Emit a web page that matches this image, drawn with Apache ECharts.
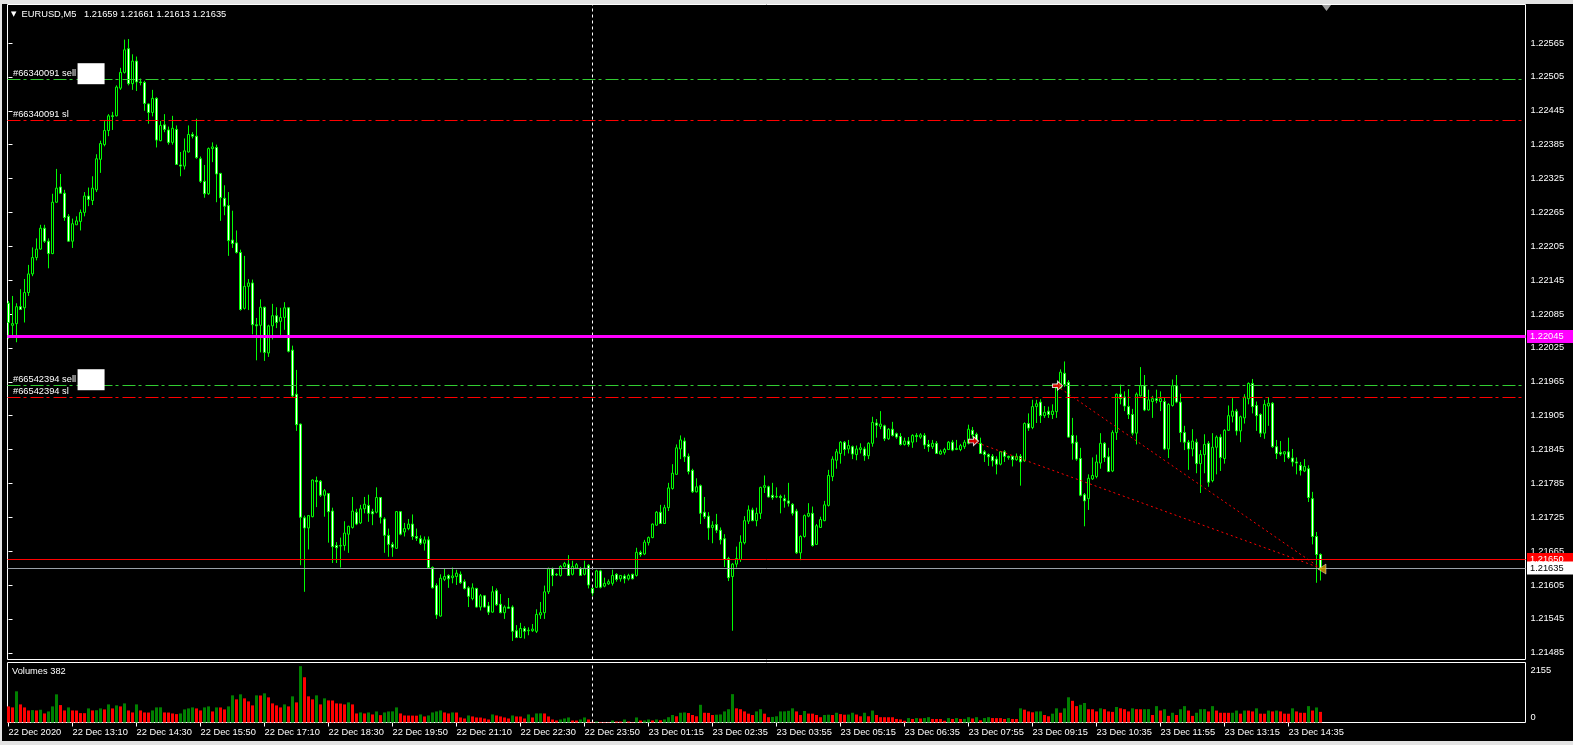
<!DOCTYPE html>
<html><head><meta charset="utf-8">
<script src="https://cdn.jsdelivr.net/npm/echarts@6/dist/echarts.min.js"></script>
<style>html,body{margin:0;padding:0;background:#000;}#c{width:1573px;height:745px;}</style>
</head><body><div id="c"></div>
<script>
const openP=[1.22104,1.22065,1.22068,1.22098,1.22096,1.22123,1.22156,1.22185,1.22200,1.22237,
1.22214,1.22192,1.22283,1.22310,1.22299,1.22258,1.22214,1.22243,1.22249,1.22265,
1.22294,1.22286,1.22305,1.22359,1.22385,1.22410,1.22436,1.22436,1.22485,1.22513,
1.22555,1.22493,1.22533,1.22496,1.22495,1.22457,1.22442,1.22467,1.22392,1.22420,
1.22411,1.22389,1.22412,1.22349,1.22347,1.22372,1.22403,1.22400,1.22360,1.22320,
1.22298,1.22378,1.22380,1.22334,1.22290,1.22277,1.22216,1.22211,1.22194,1.22095,
1.22134,1.22140,1.22066,1.22065,1.22097,1.22016,1.22064,1.22082,1.22072,1.22079,
1.22096,1.22021,1.21943,1.21890,1.21724,1.21706,1.21726,1.21790,1.21789,1.21764,
1.21767,1.21736,1.21675,1.21674,1.21675,1.21695,1.21707,1.21734,1.21715,1.21740,
1.21746,1.21735,1.21734,1.21760,1.21722,1.21693,1.21677,1.21670,1.21735,1.21699,
1.21705,1.21713,1.21691,1.21687,1.21679,1.21685,1.21636,1.21604,1.21550,1.21615,
1.21622,1.21618,1.21620,1.21624,1.21611,1.21600,1.21581,1.21599,1.21566,1.21586,
1.21568,1.21557,1.21595,1.21571,1.21556,1.21566,1.21566,1.21524,1.21512,1.21528,
1.21524,1.21524,1.21523,1.21552,1.21556,1.21593,1.21634,1.21624,1.21622,1.21638,
1.21642,1.21624,1.21635,1.21634,1.21624,1.21640,1.21599,1.21601,1.21630,1.21603,
1.21607,1.21608,1.21624,1.21616,1.21621,1.21616,1.21624,1.21622,1.21663,1.21660,
1.21680,1.21689,1.21711,1.21734,1.21714,1.21742,1.21776,1.21801,1.21846,1.21860,
1.21833,1.21808,1.21770,1.21781,1.21734,1.21727,1.21707,1.21712,1.21702,1.21687,
1.21652,1.21620,1.21642,1.21650,1.21680,1.21718,1.21738,1.21719,1.21732,1.21778,
1.21779,1.21764,1.21761,1.21762,1.21758,1.21754,1.21748,1.21736,1.21662,1.21691,
1.21727,1.21732,1.21677,1.21707,1.21719,1.21746,1.21797,1.21826,1.21838,1.21858,
1.21846,1.21850,1.21836,1.21845,1.21846,1.21834,1.21856,1.21892,1.21886,1.21887,
1.21864,1.21881,1.21873,1.21868,1.21854,1.21860,1.21858,1.21870,1.21867,1.21870,
1.21854,1.21850,1.21856,1.21837,1.21840,1.21845,1.21858,1.21845,1.21845,1.21850,
1.21856,1.21879,1.21872,1.21856,1.21841,1.21836,1.21833,1.21828,1.21819,1.21841,
1.21833,1.21833,1.21827,1.21833,1.21825,1.21891,1.21884,1.21921,1.21929,1.21905,
1.21913,1.21907,1.21912,1.21954,1.21980,1.21964,1.21870,1.21858,1.21829,1.21765,
1.21758,1.21793,1.21797,1.21821,1.21856,1.21832,1.21807,1.21875,1.21943,1.21938,
1.21921,1.21907,1.21874,1.21940,1.21958,1.21915,1.21930,1.21935,1.21930,1.21930,
1.21846,1.21923,1.21958,1.21929,1.21875,1.21858,1.21846,1.21858,1.21820,1.21836,
1.21856,1.21790,1.21849,1.21867,1.21829,1.21879,1.21904,1.21913,1.21878,1.21901,
1.21935,1.21962,1.21923,1.21907,1.21874,1.21922,1.21927,1.21850,1.21840,1.21837,
1.21841,1.21830,1.21823,1.21817,1.21807,1.21811,1.21758,1.21691,1.21659];
const highP=[1.22108,1.22117,1.22104,1.22129,1.22147,1.22172,1.22203,1.22219,1.22243,1.22243,
1.22219,1.22298,1.22342,1.22333,1.22305,1.22262,1.22254,1.22258,1.22270,1.22301,
1.22309,1.22329,1.22368,1.22392,1.22427,1.22439,1.22443,1.22490,1.22521,1.22571,
1.22572,1.22545,1.22541,1.22502,1.22498,1.22458,1.22482,1.22469,1.22427,1.22439,
1.22417,1.22436,1.22419,1.22372,1.22396,1.22419,1.22407,1.22431,1.22364,1.22349,
1.22380,1.22389,1.22385,1.22335,1.22313,1.22301,1.22268,1.22233,1.22199,1.22188,
1.22147,1.22146,1.22078,1.22111,1.22098,1.22066,1.22103,1.22097,1.22096,1.22106,
1.22097,1.22029,1.21986,1.21891,1.21728,1.21729,1.21792,1.21797,1.21791,1.21775,
1.21768,1.21742,1.21681,1.21689,1.21718,1.21710,1.21761,1.21740,1.21747,1.21761,
1.21765,1.21740,1.21778,1.21761,1.21725,1.21705,1.21681,1.21736,1.21736,1.21715,
1.21722,1.21730,1.21705,1.21693,1.21691,1.21691,1.21638,1.21608,1.21624,1.21634,
1.21624,1.21636,1.21632,1.21629,1.21615,1.21603,1.21608,1.21600,1.21589,1.21587,
1.21575,1.21603,1.21599,1.21589,1.21569,1.21582,1.21569,1.21534,1.21538,1.21532,
1.21530,1.21536,1.21562,1.21575,1.21604,1.21636,1.21636,1.21626,1.21640,1.21646,
1.21658,1.21648,1.21644,1.21637,1.21648,1.21642,1.21603,1.21632,1.21632,1.21618,
1.21615,1.21632,1.21626,1.21622,1.21624,1.21625,1.21625,1.21671,1.21666,1.21685,
1.21691,1.21714,1.21736,1.21747,1.21747,1.21786,1.21819,1.21854,1.21870,1.21866,
1.21838,1.21811,1.21794,1.21783,1.21761,1.21734,1.21718,1.21731,1.21707,1.21695,
1.21655,1.21644,1.21673,1.21693,1.21727,1.21746,1.21742,1.21742,1.21779,1.21799,
1.21781,1.21786,1.21778,1.21765,1.21765,1.21786,1.21750,1.21740,1.21693,1.21730,
1.21750,1.21744,1.21713,1.21726,1.21754,1.21809,1.21833,1.21846,1.21860,1.21860,
1.21862,1.21852,1.21852,1.21856,1.21850,1.21858,1.21903,1.21899,1.21913,1.21889,
1.21883,1.21894,1.21875,1.21874,1.21866,1.21867,1.21872,1.21874,1.21874,1.21874,
1.21862,1.21862,1.21860,1.21845,1.21848,1.21860,1.21862,1.21862,1.21855,1.21862,
1.21889,1.21885,1.21875,1.21866,1.21844,1.21838,1.21837,1.21833,1.21842,1.21844,
1.21834,1.21834,1.21838,1.21837,1.21893,1.21909,1.21933,1.21933,1.21934,1.21922,
1.21921,1.21925,1.21962,1.21987,1.22001,1.21968,1.21901,1.21870,1.21848,1.21768,
1.21801,1.21831,1.21836,1.21874,1.21858,1.21848,1.21879,1.21944,1.21960,1.21948,
1.21952,1.21917,1.21946,1.21991,1.21977,1.21951,1.21940,1.21951,1.21948,1.21938,
1.21927,1.21969,1.21977,1.21944,1.21887,1.21862,1.21881,1.21864,1.21844,1.21872,
1.21860,1.21874,1.21870,1.21872,1.21881,1.21923,1.21936,1.21917,1.21905,1.21943,
1.21964,1.21970,1.21930,1.21909,1.21933,1.21938,1.21929,1.21862,1.21860,1.21842,
1.21866,1.21846,1.21831,1.21823,1.21828,1.21817,1.21770,1.21699,1.21661];
const lowP=[1.22041,1.22046,1.22035,1.22092,1.22070,1.22117,1.22152,1.22180,1.22199,1.22211,
1.22166,1.22191,1.22282,1.22298,1.22250,1.22213,1.22202,1.22243,1.22233,1.22258,
1.22276,1.22278,1.22301,1.22335,1.22382,1.22400,1.22411,1.22435,1.22482,1.22511,
1.22490,1.22482,1.22480,1.22490,1.22445,1.22422,1.22435,1.22380,1.22391,1.22407,
1.22385,1.22385,1.22349,1.22329,1.22341,1.22371,1.22396,1.22360,1.22317,1.22291,
1.22296,1.22354,1.22283,1.22250,1.22260,1.22188,1.22202,1.22192,1.22091,1.22093,
1.22092,1.22049,1.22003,1.22017,1.22002,1.22009,1.22040,1.22060,1.22048,1.22057,
1.22017,1.21938,1.21878,1.21640,1.21593,1.21668,1.21725,1.21743,1.21761,1.21726,
1.21680,1.21644,1.21644,1.21636,1.21666,1.21662,1.21705,1.21711,1.21713,1.21732,
1.21717,1.21711,1.21732,1.21714,1.21662,1.21655,1.21655,1.21669,1.21693,1.21691,
1.21702,1.21685,1.21683,1.21676,1.21666,1.21634,1.21599,1.21545,1.21549,1.21612,
1.21600,1.21608,1.21605,1.21607,1.21597,1.21566,1.21578,1.21565,1.21560,1.21565,
1.21552,1.21556,1.21568,1.21555,1.21545,1.21563,1.21506,1.21511,1.21511,1.21510,
1.21516,1.21522,1.21520,1.21545,1.21545,1.21589,1.21603,1.21621,1.21620,1.21636,
1.21621,1.21622,1.21633,1.21621,1.21622,1.21599,1.21586,1.21600,1.21599,1.21601,
1.21605,1.21604,1.21611,1.21611,1.21608,1.21613,1.21615,1.21620,1.21655,1.21658,
1.21675,1.21688,1.21710,1.21713,1.21713,1.21736,1.21774,1.21801,1.21828,1.21823,
1.21801,1.21768,1.21769,1.21713,1.21722,1.21685,1.21679,1.21697,1.21677,1.21637,
1.21612,1.21524,1.21636,1.21646,1.21677,1.21713,1.21718,1.21709,1.21722,1.21768,
1.21760,1.21756,1.21759,1.21732,1.21742,1.21744,1.21728,1.21660,1.21649,1.21689,
1.21725,1.21673,1.21676,1.21706,1.21718,1.21744,1.21789,1.21811,1.21820,1.21834,
1.21838,1.21828,1.21826,1.21838,1.21825,1.21828,1.21850,1.21866,1.21881,1.21860,
1.21862,1.21868,1.21864,1.21852,1.21852,1.21850,1.21848,1.21858,1.21864,1.21846,
1.21841,1.21846,1.21837,1.21836,1.21836,1.21844,1.21842,1.21844,1.21842,1.21846,
1.21854,1.21866,1.21858,1.21837,1.21823,1.21816,1.21815,1.21801,1.21817,1.21823,
1.21827,1.21815,1.21825,1.21781,1.21823,1.21878,1.21881,1.21892,1.21892,1.21901,
1.21901,1.21899,1.21901,1.21952,1.21956,1.21866,1.21827,1.21825,1.21762,1.21709,
1.21738,1.21791,1.21794,1.21811,1.21823,1.21805,1.21805,1.21862,1.21925,1.21913,
1.21899,1.21870,1.21854,1.21939,1.21913,1.21914,1.21901,1.21927,1.21913,1.21844,
1.21830,1.21921,1.21927,1.21858,1.21844,1.21809,1.21833,1.21803,1.21768,1.21803,
1.21779,1.21787,1.21801,1.21807,1.21820,1.21878,1.21893,1.21870,1.21858,1.21891,
1.21925,1.21909,1.21878,1.21867,1.21864,1.21887,1.21848,1.21828,1.21834,1.21823,
1.21828,1.21815,1.21801,1.21799,1.21805,1.21752,1.21677,1.21609,1.21613];
const closeP=[1.22070,1.22068,1.22098,1.22093,1.22123,1.22156,1.22185,1.22200,1.22237,1.22214,
1.22192,1.22283,1.22308,1.22299,1.22256,1.22214,1.22245,1.22250,1.22265,1.22294,
1.22288,1.22308,1.22360,1.22387,1.22410,1.22436,1.22435,1.22487,1.22513,1.22553,
1.22493,1.22533,1.22496,1.22495,1.22458,1.22442,1.22467,1.22393,1.22419,1.22412,
1.22389,1.22414,1.22350,1.22347,1.22374,1.22403,1.22400,1.22362,1.22320,1.22298,
1.22378,1.22381,1.22333,1.22291,1.22276,1.22215,1.22210,1.22194,1.22093,1.22134,
1.22140,1.22066,1.22064,1.22097,1.22017,1.22064,1.22082,1.22070,1.22079,1.22096,
1.22019,1.21940,1.21889,1.21725,1.21706,1.21728,1.21791,1.21788,1.21764,1.21772,
1.21735,1.21673,1.21671,1.21675,1.21697,1.21709,1.21736,1.21713,1.21740,1.21748,
1.21732,1.21731,1.21760,1.21725,1.21693,1.21677,1.21672,1.21735,1.21695,1.21705,
1.21713,1.21691,1.21688,1.21679,1.21685,1.21636,1.21600,1.21552,1.21617,1.21620,
1.21616,1.21621,1.21626,1.21609,1.21599,1.21585,1.21600,1.21566,1.21586,1.21566,
1.21557,1.21593,1.21570,1.21556,1.21566,1.21564,1.21523,1.21512,1.21528,1.21523,
1.21525,1.21527,1.21553,1.21556,1.21593,1.21634,1.21622,1.21623,1.21638,1.21643,
1.21622,1.21638,1.21641,1.21622,1.21635,1.21605,1.21591,1.21630,1.21601,1.21608,
1.21611,1.21622,1.21615,1.21622,1.21616,1.21622,1.21616,1.21663,1.21659,1.21681,
1.21689,1.21713,1.21734,1.21714,1.21742,1.21777,1.21803,1.21848,1.21862,1.21832,
1.21806,1.21770,1.21779,1.21732,1.21726,1.21706,1.21711,1.21702,1.21685,1.21650,
1.21618,1.21642,1.21652,1.21681,1.21719,1.21738,1.21719,1.21732,1.21778,1.21781,
1.21761,1.21760,1.21762,1.21760,1.21754,1.21750,1.21732,1.21662,1.21691,1.21728,
1.21732,1.21675,1.21710,1.21721,1.21747,1.21799,1.21828,1.21841,1.21858,1.21845,
1.21852,1.21837,1.21846,1.21848,1.21834,1.21856,1.21893,1.21888,1.21890,1.21864,
1.21881,1.21870,1.21867,1.21854,1.21860,1.21854,1.21870,1.21868,1.21871,1.21853,
1.21850,1.21856,1.21838,1.21842,1.21845,1.21858,1.21844,1.21847,1.21852,1.21858,
1.21881,1.21871,1.21862,1.21838,1.21836,1.21832,1.21825,1.21819,1.21841,1.21833,
1.21831,1.21827,1.21833,1.21823,1.21891,1.21883,1.21921,1.21926,1.21905,1.21911,
1.21907,1.21913,1.21954,1.21982,1.21960,1.21867,1.21856,1.21828,1.21764,1.21754,
1.21794,1.21799,1.21823,1.21856,1.21831,1.21806,1.21875,1.21943,1.21935,1.21922,
1.21907,1.21874,1.21943,1.21958,1.21915,1.21933,1.21935,1.21932,1.21935,1.21846,
1.21925,1.21958,1.21929,1.21875,1.21858,1.21846,1.21860,1.21820,1.21836,1.21854,
1.21787,1.21849,1.21867,1.21831,1.21879,1.21905,1.21913,1.21878,1.21903,1.21938,
1.21962,1.21921,1.21905,1.21874,1.21925,1.21927,1.21850,1.21838,1.21837,1.21841,
1.21831,1.21823,1.21821,1.21808,1.21815,1.21760,1.21691,1.21659,1.21635];
const volumes=[578,542,1120,650,542,433,445,433,458,325,
397,578,1011,626,433,542,433,430,337,335,
506,433,440,506,470,650,506,614,578,686,
433,361,650,433,361,358,433,542,545,361,
358,325,301,325,470,506,542,506,433,542,
578,397,542,540,470,578,975,831,1011,867,
758,614,975,970,1047,903,686,614,542,650,
578,939,722,2023,1625,939,831,975,650,867,
794,790,686,680,650,722,650,325,361,325,
361,289,397,265,361,397,400,542,325,253,
250,248,245,289,217,253,361,397,433,361,
325,361,358,181,144,253,217,181,178,144,
108,289,253,217,181,144,253,217,214,144,
289,181,325,328,325,217,108,72,108,144,
181,72,70,108,181,108,24,36,20,14,
11,72,36,34,108,36,12,181,72,74,
108,72,108,80,111,190,270,223,350,360,
340,270,223,636,350,345,270,280,290,398,
477,1018,509,477,398,318,270,398,477,318,
191,200,223,398,400,420,509,398,270,413,
320,318,270,191,270,280,270,350,302,280,
286,350,286,223,350,223,429,270,191,190,
189,188,127,111,64,159,127,159,143,159,
191,127,126,125,64,159,127,159,127,130,
191,143,191,80,159,191,159,158,157,127,
159,127,126,509,461,398,366,398,400,270,
223,318,509,350,509,906,779,588,636,700,
477,475,398,509,477,398,382,557,509,477,
398,509,477,475,477,480,270,588,429,477,
238,350,270,477,588,429,238,350,477,480,
398,588,429,350,349,348,350,429,318,429,
428,398,509,318,316,429,398,429,398,318,
316,509,398,350,348,588,429,540,382];
const tickLabels=["22 Dec 2020","22 Dec 13:10","22 Dec 14:30","22 Dec 15:50","22 Dec 17:10","22 Dec 18:30","22 Dec 19:50","22 Dec 21:10","22 Dec 22:30","22 Dec 23:50","23 Dec 01:15","23 Dec 02:35","23 Dec 03:55","23 Dec 05:15","23 Dec 06:35","23 Dec 07:55","23 Dec 09:15","23 Dec 10:35","23 Dec 11:55","23 Dec 13:15","23 Dec 14:35"];
const tickBars=[0,16,32,48,64,80,96,112,128,144,160,176,192,208,224,240,256,272,288,304,320];
const priceTicks=[1.21485,1.21545,1.21605,1.21665,1.21725,1.21785,1.21845,1.21905,1.21965,1.22025,1.22085,1.22145,1.22205,1.22265,1.22325,1.22385,1.22445,1.22505,1.22565];
const volTicks=[0,2155];
const headerText="EURUSD,M5   1.21659 1.21661 1.21613 1.21635";
const volText="Volumes 382";
const sell1Level=1.22500, sl1Level=1.22428, sell2Level=1.21958, sl2Level=1.21937;
const hLineLevel=1.22045, askLevel=1.21650, bidLevel=1.21635;
const separatorBar=146;
const tradeOpenBars=[241,262];
const tradeOpenPrices=[1.21860,1.21958];
const tradeCloseBar=328, tradeClosePrice=1.21635;

const FONT='Liberation Sans', FS=9.3;
const X_MIN=-0.25, X_MAX=379.25;
const Y_MIN=1.214731, Y_MAX=1.226332;
const WHITE='#ffffff';

const candles=openP.map((o,i)=>[i,o,closeP[i],lowP[i],highP[i]]);
const volData=volumes.map((v,i)=>({value:[i,v],itemStyle:{color:(i>0&&v>volumes[i-1])?'#008000':'#ff0000'}}));

function tradeLabel(txt,withBox){
  return {show:true,position:'insideStart',distance:[5.5,0],padding:[0,0,12,0],
    formatter: withBox?('{t|'+txt+'}{b| }'):('{t|'+txt+'}'),
    rich:{t:{color:WHITE,fontSize:FS,fontFamily:FONT,padding:[0,1.5,0,0],verticalAlign:'middle'},
          b:{backgroundColor:'#ffffff',width:27,height:21,verticalAlign:'middle'}}};
}
const dashDot=[13,3,3,4];
function priceBox(v,bg,fg){
  return {show:true,position:'end',distance:1.5,formatter:v.toFixed(5),color:fg,backgroundColor:bg,
    padding:[1,10,1,3],fontSize:FS,fontFamily:FONT,lineHeight:11};
}
const levelLines=[
  {yAxis:sell1Level,lineStyle:{color:'#32cd32',width:1,type:dashDot},label:tradeLabel('#66340091 sell',true)},
  {yAxis:sl1Level,lineStyle:{color:'#ff0000',width:1,type:dashDot},label:tradeLabel('#66340091 sl',false)},
  {yAxis:sell2Level,lineStyle:{color:'#32cd32',width:1,type:dashDot},label:tradeLabel('#66542394 sell',true)},
  {yAxis:sl2Level,lineStyle:{color:'#ff0000',width:1,type:dashDot},label:tradeLabel('#66542394 sl',false)},
  {yAxis:hLineLevel,lineStyle:{color:'#ff00ff',width:3,type:'solid'},label:priceBox(hLineLevel,'#ff00ff',WHITE)},
  {yAxis:askLevel,lineStyle:{color:'#ff0000',width:1,type:'solid'},label:priceBox(askLevel,'#ff0000',WHITE)},
  {yAxis:bidLevel,lineStyle:{color:'#9aa0a8',width:1,type:'solid'},label:priceBox(bidLevel,'#ffffff','#000000')}
];
const chart=echarts.init(document.getElementById('c'));
chart.setOption({
  backgroundColor:'#000',animation:false,
  textStyle:{fontFamily:FONT},
  title:[
    {text:'{tri|▼}  '+headerText,left:11,top:8.5,padding:0,
     textStyle:{color:WHITE,fontSize:FS,fontWeight:'normal',fontFamily:FONT,lineHeight:11,
       rich:{tri:{fontFamily:'DejaVu Sans',fontSize:7,color:WHITE,lineHeight:11}}}},
    {text:volText,left:12,top:665.5,padding:0,
     textStyle:{color:WHITE,fontSize:FS,fontWeight:'normal',fontFamily:FONT,lineHeight:11}}
  ],
  grid:[
    {left:7.5,top:4.5,width:1518,height:655,show:true,backgroundColor:'#000',borderColor:WHITE,borderWidth:1},
    {left:7.5,top:662.5,width:1518,height:60,show:true,backgroundColor:'#000',borderColor:WHITE,borderWidth:1}
  ],
  xAxis:[
    {type:'value',gridIndex:0,min:X_MIN,max:X_MAX,show:false},
    {type:'value',gridIndex:1,min:X_MIN,max:X_MAX,splitLine:{show:false},axisLine:{show:false},
     axisTick:{show:true,customValues:tickBars,length:4,lineStyle:{color:WHITE}},
     axisLabel:{customValues:tickBars,formatter:v=>tickLabels[tickBars.indexOf(Math.round(v))],
       align:'left',color:WHITE,fontSize:FS,fontFamily:FONT,margin:5}}
  ],
  yAxis:[
    {type:'value',gridIndex:0,position:'right',min:Y_MIN,max:Y_MAX,splitLine:{show:false},axisLine:{show:false},
     axisTick:{show:true,customValues:priceTicks,length:4,lineStyle:{color:WHITE}},
     axisLabel:{customValues:priceTicks,formatter:v=>v.toFixed(5),color:WHITE,fontSize:FS,fontFamily:FONT,margin:5,padding:[0,0,6,0]}},
    {type:'value',gridIndex:1,position:'right',min:0,max:volTicks[1],splitLine:{show:false},axisLine:{show:false},
     axisTick:{show:true,customValues:volTicks,length:4,lineStyle:{color:WHITE}},
     axisLabel:{customValues:volTicks,formatter:v=>v===0?'{bot|0}':'{top|'+v+'}',color:WHITE,fontSize:FS,fontFamily:FONT,margin:5,
       rich:{top:{padding:[15,0,0,0],color:WHITE,fontSize:FS,fontFamily:FONT},bot:{padding:[0,0,11,0],color:WHITE,fontSize:FS,fontFamily:FONT}}}}
  ],
  series:[
    {type:'candlestick',xAxisIndex:0,yAxisIndex:0,data:candles,barWidth:2,silent:true,
     itemStyle:{color:'#000000',color0:'#ffffff',borderColor:'#00ff00',borderColor0:'#00ff00',borderColorDoji:'#00ff00',borderWidth:1},
     markLine:{silent:true,symbol:['none','none'],animation:false,precision:5,
       data:[{xAxis:separatorBar,lineStyle:{color:WHITE,width:1,type:[3,3]},label:{show:false}}]},
     markPoint:{silent:true,label:{show:false},
       data:[{coord:[tradeCloseBar+1.5,Y_MAX],symbol:'triangle',symbolRotate:180,symbolSize:[9,6],symbolOffset:[0,3.5],itemStyle:{color:'#a0a0a0'}}]}
    },
    {type:'line',xAxisIndex:0,yAxisIndex:0,silent:true,symbol:'none',z:5,data:[],
     markLine:{silent:true,symbol:['none','none'],animation:false,precision:5,data:levelLines}},
    ...tradeOpenBars.map((b,k)=>({type:'line',xAxisIndex:0,yAxisIndex:0,silent:true,symbol:'none',z:4,
       data:[[b,tradeOpenPrices[k]],[tradeCloseBar,tradeClosePrice]],
       lineStyle:{color:'#ff0000',width:1,type:[2,3]}})),
    {type:'scatter',xAxisIndex:0,yAxisIndex:0,silent:true,z:6,
     data:tradeOpenBars.map((b,k)=>[b,tradeOpenPrices[k]]),
     symbol:'path://M0,3 L5,3 L5,0 L10,5 L5,10 L5,7 L0,7 Z',symbolSize:[10,9],symbolOffset:[1,0],
     itemStyle:{color:'#ff0000',borderColor:'#ffffff',borderWidth:1}},
    {type:'scatter',xAxisIndex:0,yAxisIndex:0,silent:true,z:6,
     data:[[tradeCloseBar,tradeClosePrice]],symbol:'triangle',symbolRotate:90,symbolSize:[10,8],symbolOffset:[1.5,1],
     itemStyle:{color:'#d9a300',borderColor:'#ffffff',borderWidth:0.5}},
    {type:'bar',xAxisIndex:1,yAxisIndex:1,data:volData,barWidth:3,silent:true,
     markLine:{silent:true,symbol:['none','none'],animation:false,label:{show:false},
       data:[{xAxis:separatorBar,lineStyle:{color:WHITE,width:1,type:[3,3]}}]}}
  ],
  graphic:[
    {type:'rect',shape:{x:0,y:0,width:1573,height:4},style:{fill:'#e3e3e3'},z:100,silent:true},
    {type:'rect',shape:{x:0,y:741,width:1573,height:4},style:{fill:'#e3e3e3'},z:100,silent:true},
    {type:'rect',shape:{x:0,y:0,width:2,height:745},style:{fill:'#e3e3e3'},z:100,silent:true}
  ]
});
</script></body></html>
